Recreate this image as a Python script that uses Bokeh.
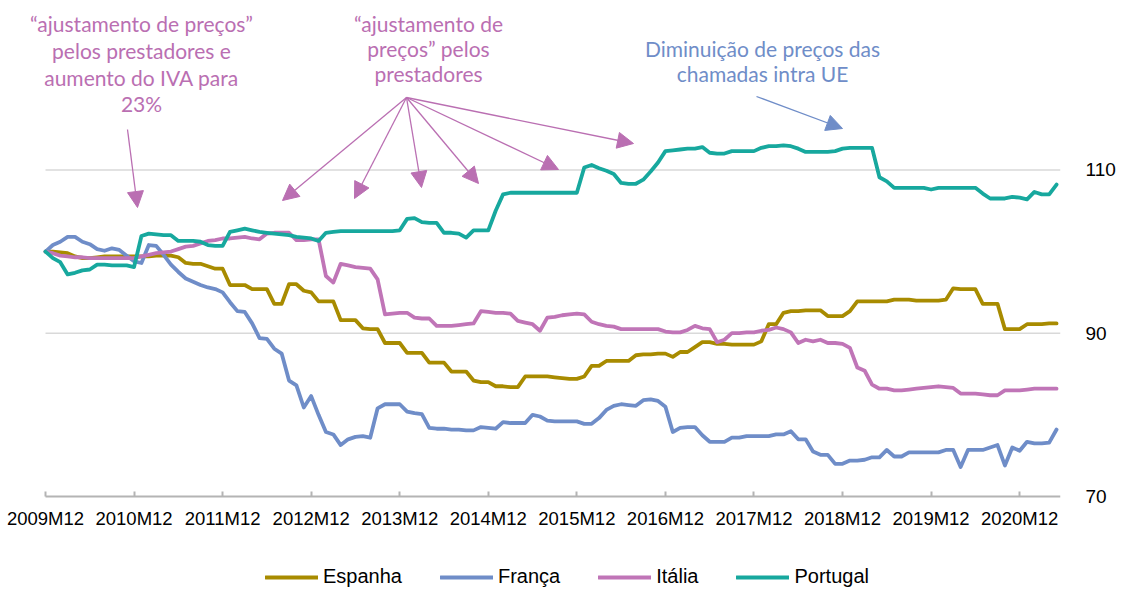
from bokeh.plotting import figure
from bokeh.models import (Range1d, FixedTicker, Legend, LegendItem, Label,
                          Arrow, NormalHead, ColumnDataSource)
from bokeh.embed import file_html
from bokeh.resources import INLINE

# ---------------- data (monthly index, 2009M12 = 100) ----------------
tick_labels = ["2009M12", "2010M12", "2011M12", "2012M12", "2013M12", "2014M12",
               "2015M12", "2016M12", "2017M12", "2018M12", "2019M12", "2020M12"]
y_ticks = [70, 90, 110]
grid_values = [90, 110]

espanha = [
    100.0, 100.0, 99.9, 99.8, 99.4, 99.2, 99.2, 99.3, 99.4, 99.4, 99.4, 99.4,
    99.4, 99.4, 99.4, 99.5, 99.5, 99.5, 99.3, 98.6, 98.5, 98.5, 98.2, 97.9,
    97.9, 95.9, 95.9, 95.9, 95.4, 95.4, 95.4, 93.6, 93.6, 96.0, 96.0, 95.2,
    95.0, 93.9, 93.9, 93.9, 91.6, 91.6, 91.6, 90.6, 90.5, 90.5, 88.8, 88.8,
    88.8, 87.6, 87.6, 87.6, 86.4, 86.4, 86.4, 85.3, 85.3, 85.3, 84.2, 84.0,
    84.0, 83.5, 83.5, 83.4, 83.4, 84.7, 84.7, 84.7, 84.7, 84.6, 84.5, 84.4,
    84.4, 84.7, 86.0, 86.0, 86.6, 86.6, 86.6, 86.6, 87.3, 87.4, 87.4, 87.5,
    87.5, 87.1, 87.7, 87.7, 88.3, 88.9, 88.9, 88.7, 88.7, 88.6, 88.6, 88.6,
    88.6, 89.0, 91.1, 91.1, 92.5, 92.7, 92.7, 92.8, 92.8, 92.8, 92.1, 92.1,
    92.1, 92.7, 93.9, 93.9, 93.9, 93.9, 93.9, 94.1, 94.1, 94.1, 94.0, 94.0,
    94.0, 94.0, 94.1, 95.5, 95.4, 95.4, 95.4, 93.6, 93.6, 93.6, 90.5, 90.5,
    90.5, 91.1, 91.1, 91.1, 91.2, 91.2]

franca = [
    100.0, 100.8, 101.2, 101.8, 101.8, 101.2, 100.9, 100.3, 100.1, 100.4, 100.2, 99.5,
    98.8, 98.6, 100.8, 100.7, 99.6, 98.4, 97.5, 96.7, 96.3, 95.9, 95.6, 95.4,
    95.0, 93.8, 92.7, 92.6, 91.2, 89.4, 89.3, 88.1, 87.5, 84.2, 83.6, 80.9,
    82.3, 80.0, 77.9, 77.6, 76.3, 77.0, 77.3, 77.4, 77.2, 80.8, 81.3, 81.3,
    81.3, 80.4, 80.2, 80.1, 78.4, 78.3, 78.3, 78.2, 78.2, 78.1, 78.1, 78.5,
    78.4, 78.3, 79.1, 79.0, 79.0, 79.0, 80.0, 79.8, 79.3, 79.2, 79.2, 79.2,
    79.2, 78.9, 78.9, 79.6, 80.6, 81.1, 81.3, 81.2, 81.1, 81.8, 81.9, 81.7,
    81.0, 77.9, 78.4, 78.5, 78.5, 77.5, 76.7, 76.7, 76.7, 77.2, 77.2, 77.4,
    77.4, 77.4, 77.4, 77.6, 77.6, 78.0, 77.0, 77.0, 75.5, 75.1, 75.1, 74.0,
    74.0, 74.4, 74.4, 74.5, 74.8, 74.8, 75.7, 74.9, 74.9, 75.4, 75.4, 75.4,
    75.4, 75.4, 75.7, 75.7, 73.6, 75.7, 75.7, 75.7, 76.0, 76.3, 73.8, 76.0,
    75.6, 76.7, 76.5, 76.5, 76.6, 78.2]

italia = [
    100.0, 99.8, 99.5, 99.4, 99.3, 99.3, 99.2, 99.2, 99.2, 99.2, 99.2, 99.2,
    99.2, 99.4, 99.6, 99.8, 99.9, 100.0, 100.3, 100.6, 100.7, 101.0, 101.3, 101.4,
    101.6, 101.6, 101.7, 101.8, 101.6, 101.5, 102.2, 102.3, 102.3, 102.3, 101.4, 101.4,
    101.5, 101.5, 97.0, 96.2, 98.5, 98.3, 98.1, 98.0, 97.9, 96.6, 92.3, 92.4,
    92.5, 92.5, 91.9, 91.8, 91.8, 90.9, 90.9, 90.9, 91.0, 91.1, 91.2, 92.7,
    92.6, 92.5, 92.5, 92.4, 91.5, 91.3, 91.1, 90.3, 91.9, 92.0, 92.2, 92.3,
    92.4, 92.3, 91.4, 91.1, 90.9, 90.8, 90.5, 90.5, 90.5, 90.5, 90.5, 90.5,
    90.2, 90.1, 90.1, 90.4, 90.9, 90.6, 90.5, 88.9, 89.2, 90.0, 90.0, 90.1,
    90.1, 90.3, 90.4, 90.7, 90.5, 90.1, 88.8, 89.2, 89.0, 89.2, 88.8, 88.8,
    88.7, 88.2, 85.8, 85.4, 83.7, 83.2, 83.2, 83.0, 83.0, 83.1, 83.2, 83.3,
    83.4, 83.5, 83.4, 83.3, 82.6, 82.6, 82.6, 82.5, 82.4, 82.4, 83.0, 83.0,
    83.0, 83.1, 83.2, 83.2, 83.2, 83.2]

portugal = [
    100.0, 99.2, 98.7, 97.2, 97.4, 97.7, 97.8, 98.4, 98.4, 98.3, 98.3, 98.3,
    98.1, 101.9, 102.2, 102.1, 102.0, 102.0, 101.3, 101.3, 101.3, 101.2, 100.8, 100.7,
    100.7, 102.4, 102.6, 102.8, 102.6, 102.4, 102.3, 102.2, 102.1, 102.0, 101.8, 101.7,
    101.6, 101.3, 102.3, 102.4, 102.5, 102.5, 102.5, 102.5, 102.5, 102.5, 102.5, 102.5,
    102.6, 104.0, 104.1, 103.6, 103.5, 103.5, 102.3, 102.3, 102.2, 101.7, 102.6, 102.6,
    102.6, 105.0, 107.0, 107.2, 107.2, 107.2, 107.2, 107.2, 107.2, 107.2, 107.2, 107.2,
    107.2, 110.3, 110.6, 110.2, 109.9, 109.5, 108.4, 108.3, 108.3, 108.8, 109.8, 110.9,
    112.3, 112.4, 112.5, 112.6, 112.6, 112.8, 112.1, 112.0, 112.0, 112.3, 112.3, 112.3,
    112.3, 112.7, 112.9, 112.9, 113.0, 112.9, 112.6, 112.2, 112.2, 112.2, 112.2, 112.3,
    112.6, 112.7, 112.7, 112.7, 112.7, 109.1, 108.6, 107.8, 107.8, 107.8, 107.8, 107.8,
    107.6, 107.8, 107.8, 107.8, 107.8, 107.8, 107.8, 107.1, 106.5, 106.5, 106.5, 106.7,
    106.6, 106.4, 107.3, 107.0, 107.0, 108.2]

series_names = ["Espanha", "França", "Itália", "Portugal"]
series_colors = ["#A88B00", "#6F8DC8", "#C075B7", "#17A89E"]

PINK = "#BA6FB2"
BLUE = "#6F8DC8"

n = len(portugal)
x = list(range(n))
tick_pos = list(range(0, n, 12))

src = ColumnDataSource(dict(x=x, Espanha=espanha, Franca=franca,
                            Italia=italia, Portugal=portugal))
cols = ["Espanha", "Franca", "Italia", "Portugal"]

W, H = 1120, 588
X0, FR = 45, 1060                   # canvas column of the first month / frame right
Y70 = 496                           # canvas row of the value 70 (x axis)
PX_X, PX_Y = 7.38, 8.165            # px per month, px per index point
X_END = (FR - X0) / PX_X

p = figure(width=W, height=H, output_backend="svg", toolbar_location=None,
           x_range=Range1d(-X0 / PX_X, X_END),
           y_range=Range1d(70 - (H - Y70) / PX_Y, 70 + Y70 / PX_Y),
           y_axis_location="right",
           min_border_left=0, min_border_right=W - FR, min_border_top=0,
           min_border_bottom=0)
p.outline_line_color = None
p.background_fill_color = "white"
p.border_fill_color = "white"

# horizontal gridlines, spanning the category axis only
p.segment(x0=[0] * len(grid_values), x1=[X_END] * len(grid_values),
          y0=grid_values, y1=grid_values, line_color="#D9D9D9", line_width=1.5)

renderers = []
for col, color in zip(cols, series_colors):
    r = p.line("x", col, source=src, line_color=color, line_width=3.8,
               line_join="round", line_cap="round")
    renderers.append(r)

# x axis, pinned at the value 70
p.xaxis.fixed_location = 70
p.xaxis.bounds = (0, X_END)
p.xaxis.ticker = FixedTicker(ticks=tick_pos)
p.xaxis.major_label_overrides = {t: lab for t, lab in zip(tick_pos, tick_labels)}
p.xaxis.axis_line_color = "#B4B4B4"
p.xaxis.axis_line_width = 2
p.xaxis.major_tick_line_color = "#B4B4B4"
p.xaxis.major_tick_line_width = 2
p.xaxis.major_tick_in = 5
p.xaxis.major_tick_out = 0
p.xaxis.minor_tick_line_color = None
p.xaxis.major_label_standoff = 11
p.xaxis.major_label_text_font = "Liberation Sans"
p.xaxis.major_label_text_font_size = "18.5px"
p.xaxis.major_label_text_color = "#000000"

# y axis (right)
p.yaxis.ticker = FixedTicker(ticks=y_ticks)
p.yaxis.axis_line_color = None
p.yaxis.major_tick_line_color = None
p.yaxis.minor_tick_line_color = None
p.yaxis.major_tick_in = 0
p.yaxis.major_tick_out = 0
p.yaxis.major_label_standoff = 25
p.yaxis.major_label_text_align = "left"
p.yaxis.major_label_text_font = "Liberation Sans"
p.yaxis.major_label_text_font_size = "19px"
p.yaxis.major_label_text_color = "#000000"

p.xgrid.grid_line_color = None
p.ygrid.grid_line_color = None

# legend (inside the frame, at its bottom)
legend = Legend(items=[LegendItem(label=nm, renderers=[r])
                       for nm, r in zip(series_names, renderers)],
                orientation="horizontal", location=(265, 0),
                padding=0, margin=0, spacing=38,
                glyph_width=53, glyph_height=20, label_standoff=5,
                label_text_font="Liberation Sans", label_text_font_size="20px",
                label_text_color="#000000",
                border_line_color=None, background_fill_alpha=0)
p.add_layout(legend)


# ---------------- annotations (positions given in canvas px) ----------------
def fx(px):
    return (px - X0) / PX_X


def fy(py):
    return 70 + (Y70 - py) / PX_Y


def add_text(lines, cx, ys, color):
    for t, yy in zip(lines, ys):
        p.add_layout(Label(x=fx(cx), y=fy(yy), text=t, text_align="center",
                           text_baseline="middle", text_font="Lato",
                           text_font_size="21px", text_color=color))


add_text(["\u201cajustamento de preços\u201d", "pelos prestadores e",
          "aumento do IVA para", "23%"], 141, [23, 50, 77, 103], PINK)
add_text(["\u201cajustamento de", "preços\u201d pelos", "prestadores"],
         428, [23, 48, 73], PINK)
add_text(["Diminuição de preços das", "chamadas intra UE"],
         762, [48, 73], BLUE)


def add_arrow(x0, y0, x1, y1, color):
    p.add_layout(Arrow(end=NormalHead(size=16, fill_color=color, line_color=color),
                       x_start=fx(x0), y_start=fy(y0), x_end=fx(x1), y_end=fy(y1),
                       line_color=color, line_width=1.3))


add_arrow(127, 129, 137, 207, PINK)
origin = (406, 97)
for tip in [(282, 200), (354, 198), (421, 187), (478, 183), (558, 169), (633, 143)]:
    add_arrow(origin[0], origin[1], tip[0], tip[1], PINK)
add_arrow(756, 96, 842, 128, BLUE)

open("out.html", "w").write(file_html(p, INLINE))
